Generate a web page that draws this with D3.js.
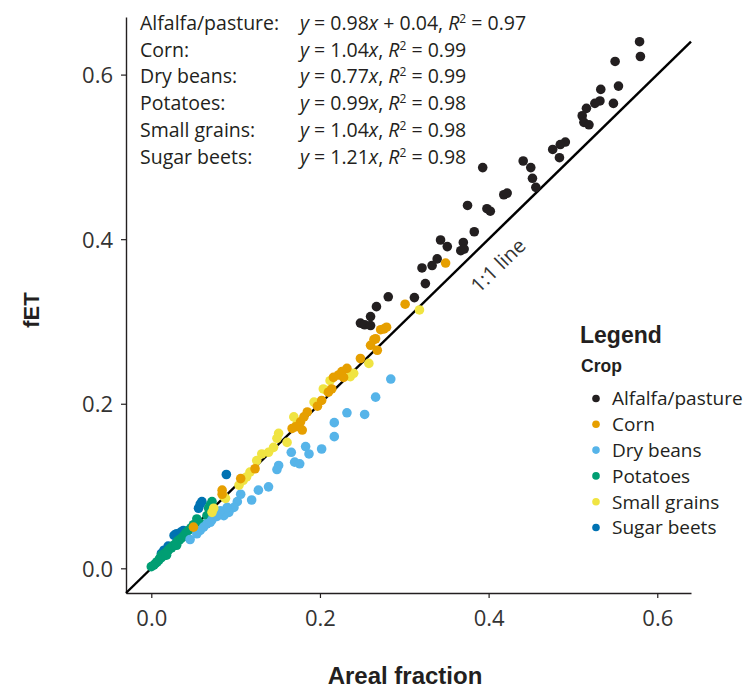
<!DOCTYPE html>
<html>
<head>
<meta charset="utf-8">
<script src="https://cdn.jsdelivr.net/npm/d3@7"></script>
<style>
  body { margin: 0; background: #fff; }
  svg { display: block; }
</style>
</head>
<body>
<div id="chart"></div>
<script>
// crops, colours (legend order)
var crops = ["Alfalfa/pasture", "Corn", "Dry beans", "Potatoes", "Small grains", "Sugar beets"];
var cropColors = ["#231f20", "#e69f00", "#56b4e9", "#009e73", "#f0e442", "#0072b2"];

// regression text
var eqLabels = ["Alfalfa/pasture:", "Corn:", "Dry beans:", "Potatoes:", "Small grains:", "Sugar beets:"];
var eqSlopes = ["0.98", "1.04", "0.77", "0.99", "1.04", "1.21"];
var eqIntercepts = ["0.04", null, null, null, null, null];
var eqR2 = ["0.97", "0.99", "0.99", "0.98", "0.98", "0.98"];

var xTicks = [0.0, 0.2, 0.4, 0.6];
var yTicks = [0.0, 0.2, 0.4, 0.6];

// [areal fraction, fET]
var alfalfa = [[0.579, 0.640], [0.580, 0.622], [0.550, 0.616], [0.554, 0.586], [0.533, 0.582], [0.532, 0.568],
  [0.526, 0.565], [0.548, 0.565], [0.516, 0.559], [0.511, 0.550], [0.513, 0.542], [0.519, 0.539],
  [0.491, 0.518], [0.485, 0.515], [0.476, 0.509], [0.484, 0.499], [0.441, 0.495], [0.450, 0.487],
  [0.452, 0.474], [0.456, 0.463], [0.418, 0.454], [0.422, 0.456], [0.398, 0.437], [0.402, 0.434],
  [0.375, 0.441], [0.393, 0.487], [0.383, 0.409], [0.343, 0.399], [0.351, 0.391], [0.370, 0.396],
  [0.367, 0.386], [0.371, 0.388], [0.339, 0.376], [0.333, 0.368], [0.321, 0.365], [0.325, 0.346],
  [0.312, 0.329], [0.281, 0.330], [0.267, 0.318], [0.260, 0.306], [0.248, 0.298], [0.253, 0.296],
  [0.260, 0.295]];
var corn = [[0.349, 0.371], [0.301, 0.321], [0.276, 0.291], [0.279, 0.293], [0.266, 0.279], [0.272, 0.290],
  [0.264, 0.278], [0.260, 0.271], [0.268, 0.265], [0.248, 0.255], [0.232, 0.243], [0.226, 0.239],
  [0.222, 0.235], [0.216, 0.232], [0.228, 0.232], [0.214, 0.218], [0.210, 0.214], [0.202, 0.204],
  [0.197, 0.197], [0.185, 0.190], [0.181, 0.184], [0.177, 0.178], [0.171, 0.172], [0.167, 0.170],
  [0.179, 0.168], [0.123, 0.121], [0.106, 0.109], [0.084, 0.095], [0.084, 0.090], [0.050, 0.050]];
var dryBeans = [[0.284, 0.230], [0.266, 0.208], [0.253, 0.187], [0.232, 0.189], [0.217, 0.177], [0.217, 0.160],
  [0.202, 0.145], [0.183, 0.148], [0.187, 0.139], [0.166, 0.141], [0.170, 0.129], [0.176, 0.127],
  [0.151, 0.125], [0.149, 0.120], [0.139, 0.099], [0.127, 0.095], [0.119, 0.083], [0.106, 0.090],
  [0.102, 0.081], [0.098, 0.074], [0.092, 0.068], [0.086, 0.064], [0.078, 0.063], [0.072, 0.059],
  [0.066, 0.054], [0.058, 0.046], [0.046, 0.035], [0.082, 0.070], [0.090, 0.074], [0.070, 0.056],
  [0.062, 0.050], [0.054, 0.042]];
var potatoes = [[0.000, 0.002], [0.003, 0.004], [0.005, 0.006], [0.007, 0.008], [0.009, 0.010], [0.010, 0.012],
  [0.012, 0.013], [0.014, 0.015], [0.015, 0.017], [0.017, 0.019], [0.019, 0.020], [0.020, 0.022],
  [0.022, 0.024], [0.024, 0.025], [0.025, 0.027], [0.027, 0.028], [0.029, 0.030], [0.031, 0.033],
  [0.033, 0.034], [0.035, 0.036], [0.037, 0.038], [0.039, 0.040], [0.041, 0.043], [0.044, 0.046],
  [0.047, 0.049], [0.050, 0.053], [0.052, 0.052], [0.054, 0.060], [0.066, 0.064], [0.068, 0.073],
  [0.072, 0.081], [0.070, 0.077], [0.058, 0.055], [0.012, 0.016], [0.018, 0.016], [0.030, 0.028]];
var smallGrains = [[0.318, 0.314], [0.258, 0.249], [0.236, 0.233], [0.212, 0.228], [0.204, 0.218], [0.193, 0.202],
  [0.169, 0.184], [0.173, 0.176], [0.151, 0.164], [0.149, 0.158], [0.161, 0.153], [0.145, 0.147],
  [0.139, 0.141], [0.131, 0.139], [0.125, 0.131], [0.117, 0.117], [0.109, 0.107], [0.104, 0.101],
  [0.086, 0.087], [0.074, 0.073], [0.240, 0.237], [0.208, 0.216], [0.113, 0.111], [0.088, 0.085],
  [0.072, 0.068]];
var sugarBeets = [[0.089, 0.114], [0.060, 0.081], [0.056, 0.073], [0.058, 0.078], [0.038, 0.046], [0.030, 0.042],
  [0.027, 0.040], [0.015, 0.022], [0.012, 0.018], [0.035, 0.044], [0.020, 0.027]];

var series = [alfalfa, corn, dryBeans, potatoes, smallGrains, sugarBeets];
var drawOrder = [0, 5, 3, 2, 4, 1];

var width = 748, height = 690;
var font = "'Open Sans', sans-serif";
var boldFont = "'Liberation Sans', Arial, sans-serif";
var ink = "#231f20";

var svg = d3.select("#chart").append("svg")
  .attr("width", width)
  .attr("height", height);

var x = d3.scaleLinear().domain([-0.03, 0.64]).range([126, 691]);
var y = d3.scaleLinear().domain([-0.03, 0.67]).range([593, 17]);

// axes
var xAxis = svg.append("g")
  .attr("transform", "translate(0," + y(-0.03) + ")")
  .call(d3.axisBottom(x).tickValues(xTicks).tickFormat(d3.format(".1f")).tickSize(5).tickSizeOuter(0));
var yAxis = svg.append("g")
  .attr("transform", "translate(" + x(-0.03) + ",0)")
  .call(d3.axisLeft(y).tickValues(yTicks).tickFormat(d3.format(".1f")).tickSize(5).tickSizeOuter(0));

[xAxis, yAxis].forEach(function (g) {
  g.select(".domain").attr("stroke", ink).attr("stroke-width", 1.4);
  g.selectAll(".tick line").attr("stroke", ink).attr("stroke-width", 1.2);
  g.selectAll(".tick text")
    .style("font-family", font)
    .style("font-size", "22px")
    .attr("fill", "#333");
});
xAxis.selectAll(".tick text").attr("dy", null).attr("y", 33);
yAxis.selectAll(".tick text").attr("x", -13).attr("dy", "0.36em");

// 1:1 line
svg.append("line")
  .attr("x1", x(-0.03)).attr("y1", y(-0.03))
  .attr("x2", x(0.64)).attr("y2", y(0.64))
  .attr("stroke", "#000")
  .attr("stroke-width", 2.4);

var ang = Math.atan2(y(0.64) - y(0), x(0.64) - x(0)) * 180 / Math.PI;
svg.append("text")
  .attr("transform", "translate(" + (x(0.39) + 18) + "," + (y(0.39) + 18) + ") rotate(" + ang + ")")
  .attr("text-anchor", "middle")
  .attr("dy", "0.35em")
  .style("font-family", font)
  .style("font-size", "20px")
  .attr("fill", "#333")
  .text("1:1 line");

// points
drawOrder.forEach(function (k) {
  svg.append("g").selectAll("circle")
    .data(series[k])
    .enter().append("circle")
    .attr("cx", function (d) { return x(d[0]); })
    .attr("cy", function (d) { return y(d[1]); })
    .attr("r", 4.8)
    .attr("fill", cropColors[k]);
});

// equations
var eq = svg.append("g")
  .style("font-family", font)
  .style("font-size", "19.5px")
  .attr("fill", ink);
for (var i = 0; i < eqLabels.length; i++) {
  var by = 30 + i * 26.7;
  eq.append("text").attr("x", 140).attr("y", by).text(eqLabels[i]);
  var t = eq.append("text").attr("x", 300).attr("y", by);
  t.append("tspan").style("font-style", "italic").text("y");
  t.append("tspan").text(" = " + eqSlopes[i]);
  t.append("tspan").style("font-style", "italic").text("x");
  if (eqIntercepts[i]) t.append("tspan").text(" + " + eqIntercepts[i]);
  t.append("tspan").text(", ");
  t.append("tspan").style("font-style", "italic").text("R");
  t.append("tspan").attr("dy", -7).style("font-size", "12px").text("2");
  t.append("tspan").attr("dy", 7).text(" = " + eqR2[i]);
}

// legend
var lg = svg.append("g").attr("fill", ink);
lg.append("text").attr("x", 580).attr("y", 343)
  .style("font-family", boldFont).style("font-weight", "bold").style("font-size", "23px")
  .text("Legend");
lg.append("text").attr("x", 581).attr("y", 372)
  .style("font-family", boldFont).style("font-weight", "bold").style("font-size", "17.5px")
  .text("Crop");
crops.forEach(function (c, i) {
  var cy = 398.5 + i * 25.8;
  lg.append("circle").attr("cx", 596).attr("cy", cy).attr("r", 3.8).attr("fill", cropColors[i]);
  lg.append("text").attr("x", 612).attr("y", cy).attr("dy", "0.36em")
    .style("font-family", font).style("font-size", "19px")
    .text(c);
});

// axis titles
svg.append("text")
  .attr("x", 405).attr("y", 684)
  .attr("text-anchor", "middle")
  .style("font-family", boldFont).style("font-weight", "bold").style("font-size", "24px")
  .attr("fill", ink)
  .text("Areal fraction");
svg.append("text")
  .attr("transform", "translate(39,310) rotate(-90)")
  .attr("text-anchor", "middle")
  .style("font-family", boldFont).style("font-weight", "bold").style("font-size", "22px")
  .attr("fill", ink)
  .text("fET");
</script>
</body>
</html>
